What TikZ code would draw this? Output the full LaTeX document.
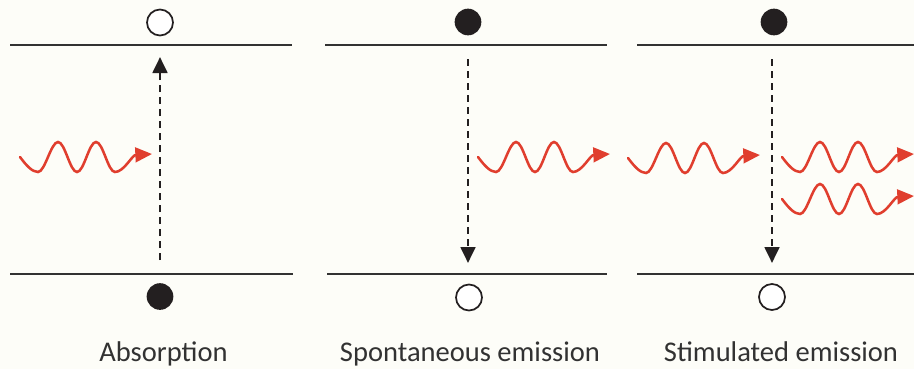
\documentclass[tikz,border=0pt]{standalone}
\usepackage{fontspec}
\setmainfont{Carlito}
\usetikzlibrary{arrows.meta}
\definecolor{bg}{RGB}{253,253,248}
\definecolor{lvl}{RGB}{50,50,50}
\definecolor{ink}{RGB}{35,31,32}
\definecolor{phot}{RGB}{224,62,46}
\definecolor{txt}{RGB}{50,50,50}
\tikzset{
  level/.style={draw=lvl, line width=2.1pt},
  emptydot/.style={circle, draw=ink, line width=1.3pt, fill=white, minimum size=19.5pt, inner sep=0pt},
  fulldot/.style={circle, fill=ink, minimum size=20pt, inner sep=0pt},
  jump/.style={draw=ink, line width=2.1pt, dash pattern=on 5.5pt off 3.5pt, -{Triangle[length=12pt, width=11pt]}},
  caption/.style={text=txt, font=\fontsize{21.4}{24}\selectfont, inner sep=0pt},
  photon/.pic={
    \draw[phot, line width=1.9pt, line cap=round, -{Triangle[length=12.5pt, width=11pt]}]
      (0,0) .. controls (6,8) and (12,15) .. (18,15)
      .. controls (25,15) and (31,-15) .. (38,-15)
      .. controls (45,-15) and (50,15) .. (57,15)
      .. controls (64,15) and (69,-15) .. (76,-15)
      .. controls (83,-15) and (88,15) .. (95,15)
      .. controls (104,15) and (112,-2) .. (132,-3);
  }
}
\begin{document}
\begin{tikzpicture}[x=0.75pt, y=-0.75pt]
  \fill[bg] (0,0) rectangle (914,369);
  \useasboundingbox (0,0) rectangle (914,369);

  % energy levels
  \coordinate (u1a) at (10,45);  \coordinate (u1b) at (292,45);
  \coordinate (l1a) at (10,274); \coordinate (l1b) at (293,274);
  \coordinate (u2a) at (325,45);  \coordinate (u2b) at (607,45);
  \coordinate (l2a) at (327,274); \coordinate (l2b) at (607,274);
  \coordinate (u3a) at (637,45);  \coordinate (u3b) at (914,45);
  \coordinate (l3a) at (637,274); \coordinate (l3b) at (914,274);
  \draw[level] (u1a) -- (u1b);
  \draw[level] (l1a) -- (l1b);
  \draw[level] (u2a) -- (u2b);
  \draw[level] (l2a) -- (l2b);
  \draw[level] (u3a) -- (u3b);
  \draw[level] (l3a) -- (l3b);

  % electrons / holes
  \node[emptydot] (e1u) at (160,22.5) {};
  \node[fulldot]  (e1l) at (160,296.5) {};
  \node[fulldot]  (e2u) at (468,22) {};
  \node[emptydot] (e2l) at (469,297.5) {};
  \node[fulldot]  (e3u) at (774,22) {};
  \node[emptydot] (e3l) at (772,297) {};

  % transitions
  \coordinate (a1s) at (160,260); \coordinate (a1e) at (160,57);
  \coordinate (a2s) at (468,59);  \coordinate (a2e) at (468,263);
  \coordinate (a3s) at (772,59);  \coordinate (a3e) at (772,263);
  \draw[jump] (a1s) -- (a1e);
  \draw[jump] (a2s) -- (a2e);
  \draw[jump] (a3s) -- (a3e);

  % photons
  \pic at (20,157) {photon};
  \pic at (478,157) {photon};
  \pic at (628,158) {photon};
  \pic at (782,157) {photon};
  \pic at (782,199) {photon};

  % captions
  \node[caption, anchor=base] (c1) at (163.5,361) {Absorption};
  \node[caption, anchor=base] (c2) at (470,361) {Spontaneous emission};
  \node[caption, anchor=base] (c3) at (781,361) {Stimulated emission};
\end{tikzpicture}
\end{document}
